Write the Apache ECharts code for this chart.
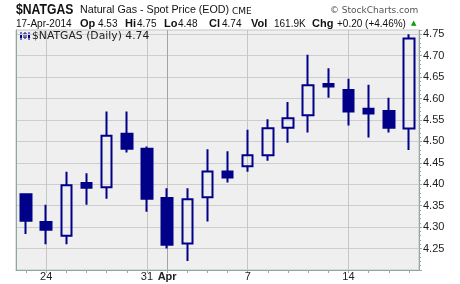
<!DOCTYPE html>
<html>
<head>
<meta charset="utf-8">
<script src="https://cdn.jsdelivr.net/npm/echarts@6/dist/echarts.min.js"></script>
<style>
html,body{margin:0;padding:0;background:#fff;}
#wrap{position:relative;width:460px;height:284px;}
#bg{position:absolute;left:16px;top:30px;width:403px;height:240px;background:#efefef;}
#c{position:absolute;left:0;top:0;width:460px;height:284px;}
</style>
</head>
<body>
<div id="wrap"><div id="bg"></div><div id="c"></div></div>
<script>
const dates = ['Mar 21','Mar 24','Mar 25','Mar 26','Mar 27','Mar 28','Mar 31','Apr 1','Apr 2','Apr 3','Apr 4','Apr 7','Apr 8','Apr 9','Apr 10','Apr 11','Apr 14','Apr 15','Apr 16','Apr 17'];
const opens  = [4.377,4.312,4.280,4.403,4.393,4.518,4.483,4.368,4.262,4.370,4.430,4.442,4.468,4.532,4.561,4.634,4.620,4.576,4.571,4.53];
const closes = [4.315,4.294,4.398,4.392,4.513,4.483,4.366,4.259,4.365,4.430,4.416,4.468,4.531,4.554,4.631,4.628,4.570,4.565,4.532,4.74];
const lows   = [4.284,4.260,4.260,4.352,4.366,4.474,4.336,4.250,4.221,4.313,4.404,4.429,4.455,4.497,4.521,4.602,4.537,4.509,4.521,4.48];
const highs  = [4.379,4.352,4.429,4.426,4.570,4.570,4.488,4.391,4.391,4.482,4.477,4.527,4.552,4.592,4.702,4.671,4.646,4.632,4.602,4.75];
const xTickLabels = ['', '24', '', '', '', '', '31', 'Apr', '', '', '', '7', '', '', '', '', '14', '', '', ''];
const yTickLabels = ['4.25','4.30','4.35','4.40','4.45','4.50','4.55','4.60','4.65','4.70','4.75'];
const weekLines = ['Mar 24','Mar 31','Apr 7','Apr 14'];
const monthLines = ['Apr 1'];

const FONT = 'Liberation Sans, Arial, sans-serif';
const NAVY = '#000088';
const AXISC = '#8fa89d';
const GL = '#c6c6c6', GM = '#a4a4a4', GH = '#cdcdcd';

const chart = echarts.init(document.getElementById('c'), null, {renderer:'canvas'});

const header2 = [
  ['17-Apr-2014', 16, false], ['Op', 80, true], ['4.53', 98, false],
  ['Hi', 125, true], ['4.75', 137, false], ['Lo', 164, true], ['4.48', 178, false],
  ['Cl', 209, true], ['4.74', 222, false], ['Vol', 251, true], ['161.9K', 274, false],
  ['Chg', 312, true], ['+0.20 (+4.46%)', 337, false]
];
const graphics = [
  {type:'text', x:16, y:3, scaleX:0.87, style:{text:'$NATGAS', font:'bold 14px '+FONT, fill:'#111'}},
  {type:'text', left:80, top:5, style:{text:'Natural Gas - Spot Price (EOD)', font:'10.7px '+FONT, fill:'#111'}},
  {type:'text', left:232, top:7, style:{text:'CME', font:'9px DejaVu Sans, sans-serif', fill:'#111'}},
  {type:'text', left:330, top:6, style:{text:'\u00a9 StockCharts.com', font:'9px DejaVu Sans, sans-serif', fill:'#555'}},
  {type:'text', left:411, top:20, style:{text:'\u25b2', font:'7px DejaVu Sans, sans-serif', fill:'#00a000'}},
  {type:'text', left:32, top:31, z:10, style:{text:'$NATGAS (Daily) 4.74', font:'10.8px DejaVu Sans, sans-serif', fill:'#222'}},
  {type:'rect', shape:{x:20, y:34, width:2, height:4}, style:{fill:NAVY}},
  {type:'rect', shape:{x:24, y:33, width:2, height:5}, style:{fill:'none', stroke:NAVY, lineWidth:1}},
  {type:'rect', shape:{x:28, y:34, width:2, height:4}, style:{fill:NAVY}},
  {type:'line', shape:{x1:21, y1:32, x2:21, y2:40}, style:{stroke:NAVY, lineWidth:1}},
  {type:'line', shape:{x1:29, y1:32, x2:29, y2:40}, style:{stroke:NAVY, lineWidth:1}}
];
header2.forEach(h => {
  graphics.push({type:'text', left:h[1], top:h[2] ? 18 : 19, style:{text:h[0], font:(h[2]?'bold 11px ':'10px ')+FONT, fill:'#111'}});
});

const vColors = dates.filter(d => weekLines.includes(d) || monthLines.includes(d)).map(d => monthLines.includes(d) ? GM : GL);
const yLabel = v => { const s = (Math.round(v*100)/100).toFixed(2); return yTickLabels.includes(s) ? s : ''; };

chart.setOption({
  animation:false,
  backgroundColor:'transparent',
  grid:{left:16, right:41, top:30, bottom:14, show:true, backgroundColor:'transparent', borderColor:'#bfc8c4', borderWidth:1},
  xAxis:{
    type:'category', data:dates, boundaryGap:true,
    axisLine:{show:true, lineStyle:{color:AXISC, width:1}},
    axisTick:{show:true, alignWithLabel:true, interval:0, length:3, lineStyle:{color:'#9aaaa3'}},
    axisLabel:{interval:0, margin:1, fontFamily:FONT, fontSize:11, color:'#222',
      formatter:(v, i) => xTickLabels[i] === 'Apr' ? '{b|Apr}' : xTickLabels[i],
      rich:{b:{fontWeight:'bold', fontFamily:FONT, fontSize:11, color:'#222'}}},
    splitLine:{show:true, alignWithLabel:true,
      interval:(i, v) => weekLines.includes(v) || monthLines.includes(v),
      lineStyle:{color:vColors, width:1}}
  },
  yAxis:[{
    type:'value', position:'right', min:4.20, max:4.76, interval:0.05, scale:true,
    axisLine:{show:true, onZero:false, lineStyle:{color:AXISC, width:1}},
    axisTick:{show:true, length:3, lineStyle:{color:'#9aaaa3'}},
    minorTick:{show:true, splitNumber:5, length:2, lineStyle:{color:'#9aaaa3'}},
    axisLabel:{margin:4, fontFamily:FONT, fontSize:11, color:'#222', formatter:yLabel},
    splitLine:{show:true, showMinLine:false, showMaxLine:false, lineStyle:{color:GH, width:1}}
  },{
    type:'value', position:'left', min:4.20, max:4.76, interval:0.05,
    axisLine:{show:true, onZero:false, lineStyle:{color:AXISC, width:1}},
    axisTick:{show:false}, axisLabel:{show:false}, splitLine:{show:false}
  }],
  series:[{
    type:'candlestick', z:3, barWidth:11,
    data:dates.map((d,i) => [opens[i], closes[i], lows[i], highs[i]]),
    itemStyle:{color:'rgba(0,0,0,0)', color0:NAVY, borderColor:NAVY, borderColor0:NAVY, borderWidth:2}
  }],
  graphic:graphics
});
</script>
</body>
</html>
